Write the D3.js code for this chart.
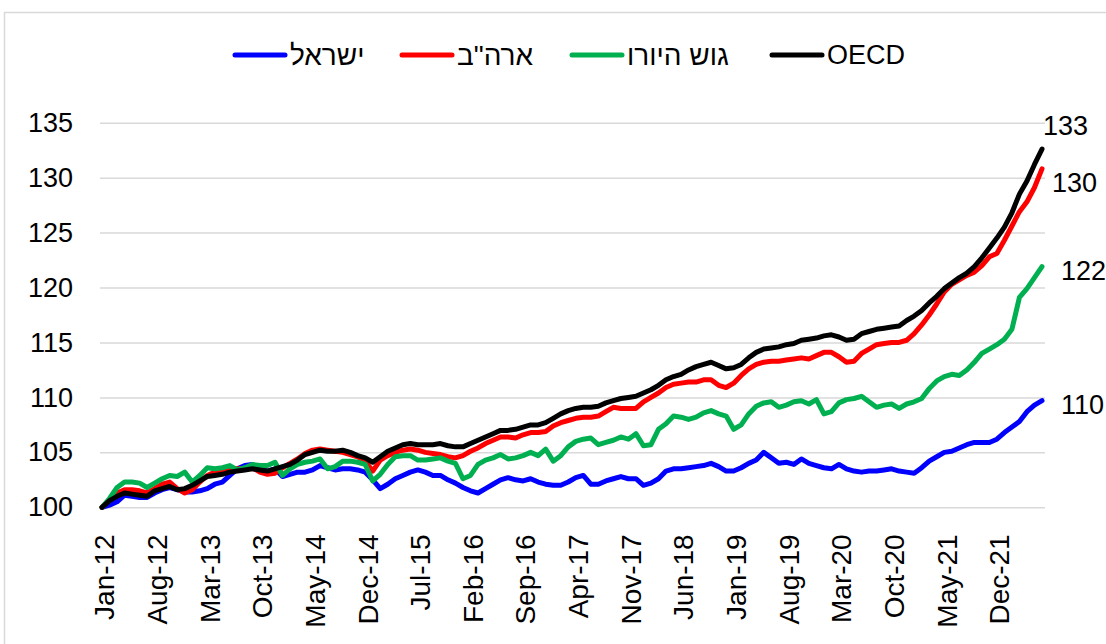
<!DOCTYPE html>
<html><head><meta charset="utf-8">
<script src="https://cdn.jsdelivr.net/npm/d3@7"></script>
<style>
body{margin:0;background:#fff}
svg{display:block}
text{font-family:"Liberation Sans",Arial,sans-serif;fill:#000}
</style>
</head><body>
<svg id="c" width="1106" height="644"></svg>
<script>
// ---- data ----
const seriesNames = ["ישראל", "ארה\"ב", "גוש היורו", "OECD"];
const seriesColors = ["#0000FF", "#FF0000", "#00B050", "#000000"];
const endLabels = ["110", "130", "122", "133"];
const tickLabels = ["Jan-12","Aug-12","Mar-13","Oct-13","May-14","Dec-14","Jul-15","Feb-16","Sep-16","Apr-17","Nov-17","Jun-18","Jan-19","Aug-19","Mar-20","Oct-20","May-21","Dec-21"];
const yTicks = [100, 105, 110, 115, 120, 125, 130, 135];

const israel = [
100.0,100.2,100.5,101.1,101.0,100.9,100.9,101.3,101.6,101.8,
101.6,101.4,101.4,101.5,101.7,102.1,102.3,102.9,103.5,103.8,
103.9,103.4,103.3,103.5,102.8,103.0,103.2,103.2,103.4,103.8,
103.6,103.4,103.5,103.5,103.4,103.2,102.5,101.7,102.1,102.6,
102.9,103.2,103.4,103.2,102.9,102.9,102.5,102.2,101.8,101.5,
101.3,101.7,102.1,102.5,102.7,102.5,102.4,102.6,102.3,102.1,
102.0,102.0,102.3,102.7,102.9,102.1,102.1,102.4,102.6,102.8,
102.6,102.6,102.0,102.2,102.6,103.3,103.5,103.5,103.6,103.7,
103.8,104.0,103.7,103.3,103.3,103.6,104.0,104.3,105.0,104.5,
104.0,104.1,103.9,104.4,104.0,103.8,103.6,103.5,103.9,103.5,
103.3,103.2,103.3,103.3,103.4,103.5,103.3,103.2,103.1,103.6,
104.2,104.6,105.0,105.1,105.4,105.7,105.9,105.9,105.9,106.2,
106.8,107.3,107.8,108.7,109.3,109.7];

const usa = [
100.0,100.7,101.3,101.6,101.6,101.5,101.3,101.7,102.1,102.3,
101.7,101.3,101.6,102.3,102.9,103.2,103.3,103.4,103.5,103.5,
103.6,103.2,103.0,103.1,103.6,104.0,104.4,104.9,105.2,105.3,
105.2,105.1,105.0,104.8,104.6,104.2,103.3,104.3,104.7,105.0,
105.2,105.3,105.2,105.0,104.9,104.8,104.6,104.5,104.7,105.1,
105.4,105.8,106.1,106.4,106.4,106.3,106.6,106.8,106.8,106.9,
107.4,107.7,107.9,108.1,108.2,108.2,108.3,108.7,109.1,109.0,
109.0,109.0,109.6,110.0,110.4,110.9,111.2,111.3,111.4,111.4,
111.6,111.6,111.1,110.9,111.3,112.0,112.6,113.0,113.2,113.3,
113.3,113.4,113.5,113.6,113.5,113.8,114.1,114.1,113.7,113.2,
113.3,114.0,114.4,114.8,114.9,115.0,115.0,115.2,115.8,116.6,
117.5,118.5,119.6,120.3,120.7,121.1,121.4,122.0,122.8,123.1,
124.3,125.6,126.9,127.8,129.1,130.8];

const euro = [
100.0,100.8,101.8,102.3,102.3,102.2,101.8,102.2,102.6,102.9,
102.8,103.2,102.3,102.9,103.6,103.5,103.6,103.8,103.4,103.6,
103.9,103.8,103.8,104.1,102.9,103.5,103.9,104.1,104.2,104.4,
103.5,103.7,104.2,104.2,104.1,103.9,102.4,103.0,103.9,104.6,
104.7,104.7,104.3,104.3,104.4,104.5,104.2,104.0,102.6,102.9,
103.9,104.3,104.5,104.8,104.4,104.5,104.7,105.0,104.7,105.3,
104.2,104.7,105.5,106.0,106.2,106.3,105.7,105.9,106.1,106.4,
106.2,106.7,105.6,105.7,107.1,107.6,108.3,108.2,108.0,108.2,
108.6,108.8,108.5,108.3,107.1,107.5,108.5,109.2,109.5,109.6,
109.1,109.3,109.6,109.7,109.4,109.8,108.5,108.7,109.5,109.8,
109.9,110.1,109.6,109.1,109.3,109.4,109.0,109.4,109.6,109.9,
110.8,111.5,111.9,112.1,112.0,112.5,113.2,114.0,114.4,114.8,
115.3,116.2,119.1,119.9,120.9,121.9];

const oecd = [
100.0,100.6,101.0,101.3,101.2,101.1,101.0,101.5,101.7,101.9,
101.6,101.7,102.0,102.4,102.8,102.9,103.0,103.2,103.3,103.4,
103.5,103.4,103.3,103.5,103.7,103.9,104.3,104.8,105.0,105.2,
105.1,105.1,105.2,105.0,104.7,104.5,104.1,104.6,105.1,105.4,
105.7,105.8,105.7,105.7,105.7,105.8,105.6,105.5,105.5,105.8,
106.1,106.4,106.7,107.0,107.0,107.1,107.3,107.5,107.5,107.7,
108.1,108.5,108.8,109.0,109.1,109.1,109.2,109.5,109.7,109.9,
110.0,110.1,110.4,110.7,111.1,111.6,111.9,112.1,112.5,112.8,
113.0,113.2,112.9,112.6,112.7,113.0,113.6,114.1,114.4,114.5,
114.6,114.8,114.9,115.2,115.3,115.4,115.6,115.7,115.5,115.2,
115.3,115.8,116.0,116.2,116.3,116.4,116.5,117.0,117.4,117.9,
118.6,119.2,119.9,120.4,120.9,121.3,121.9,122.7,123.6,124.5,
125.5,126.8,128.5,129.7,131.2,132.6];

// ---- categories (monthly, Jan-12 .. Jun-22) ----
const fmt = d3.timeFormat("%b-%y");
const months = d3.timeMonth.range(new Date(2012, 0, 1), new Date(2012, 0 + israel.length, 1)).map(fmt);

const allSeries = [israel, usa, euro, oecd];

// ---- layout ----
const svg = d3.select("#c");
const plot = {left: 102, right: 1042, gridRight: 1045, top: 122.7, bottom: 507.3};

svg.append("rect").attr("x", 4.5).attr("y", 12.5).attr("width", 1120).attr("height", 660)
  .attr("fill", "#fff").attr("stroke", "#d9d9d9").attr("stroke-width", 1.5);

const x = d3.scalePoint().domain(months).range([plot.left, plot.right]);
const y = d3.scaleLinear().domain([100, 135]).range([plot.bottom, plot.top]);

// y axis + gridlines
const yAxis = svg.append("g").attr("transform", `translate(${plot.left - 2},0)`)
  .call(d3.axisLeft(y).tickValues(yTicks).tickFormat(d3.format("d"))
    .tickSize(-(plot.gridRight - plot.left + 2)).tickPadding(27));
yAxis.select(".domain").remove();
yAxis.selectAll(".tick line").attr("stroke", "#d9d9d9").attr("stroke-width", 1.5);
yAxis.selectAll(".tick text").attr("font-size", 27).attr("font-family", "Liberation Sans, Arial, sans-serif").attr("fill", "#000");

// x axis labels
const xAxis = svg.append("g").attr("transform", `translate(2,${plot.bottom})`)
  .call(d3.axisBottom(x).tickValues(tickLabels).tickSize(0));
xAxis.select(".domain").remove();
xAxis.selectAll(".tick text")
  .attr("transform", "rotate(-90)")
  .attr("text-anchor", "end")
  .attr("x", -27).attr("y", 0).attr("dy", "0.35em")
  .attr("font-size", 28).attr("font-family", "Liberation Sans, Arial, sans-serif").attr("fill", "#000");

// lines
const line = d3.line().x((d, i) => x(months[i])).y(d => y(d));
svg.append("g").selectAll("path").data(allSeries).join("path")
  .attr("d", line)
  .attr("fill", "none")
  .attr("stroke", (d, i) => seriesColors[i])
  .attr("stroke-width", 5)
  .attr("stroke-linejoin", "round")
  .attr("stroke-linecap", "round");

// end labels
const labelOffsets = [[19, 4], [10, 14], [19, 4], [1, -24]];
svg.append("g").selectAll("text").data(allSeries).join("text")
  .attr("x", (d, i) => x(months[d.length - 1]) + labelOffsets[i][0])
  .attr("y", (d, i) => y(d[d.length - 1]) + labelOffsets[i][1])
  .attr("dy", "0.35em")
  .attr("font-size", 27)
  .text((d, i) => endLabels[i]);

// legend (fixed item positions)
const legendX = [233, 400, 570, 770];
const legend = svg.append("g");
seriesNames.forEach((name, i) => {
  const lx = legendX[i];
  legend.append("line").attr("x1", lx + 2).attr("x2", lx + 52).attr("y1", 55).attr("y2", 55)
    .attr("stroke", seriesColors[i]).attr("stroke-width", 5).attr("stroke-linecap", "round");
  legend.append("text").attr("x", lx + 57).attr("y", 55).attr("dy", "0.35em")
    .attr("font-size", i === 3 ? 27 : 28).attr("direction", "rtl").attr("text-anchor", "end").text(name);
});
</script>
</body></html>
